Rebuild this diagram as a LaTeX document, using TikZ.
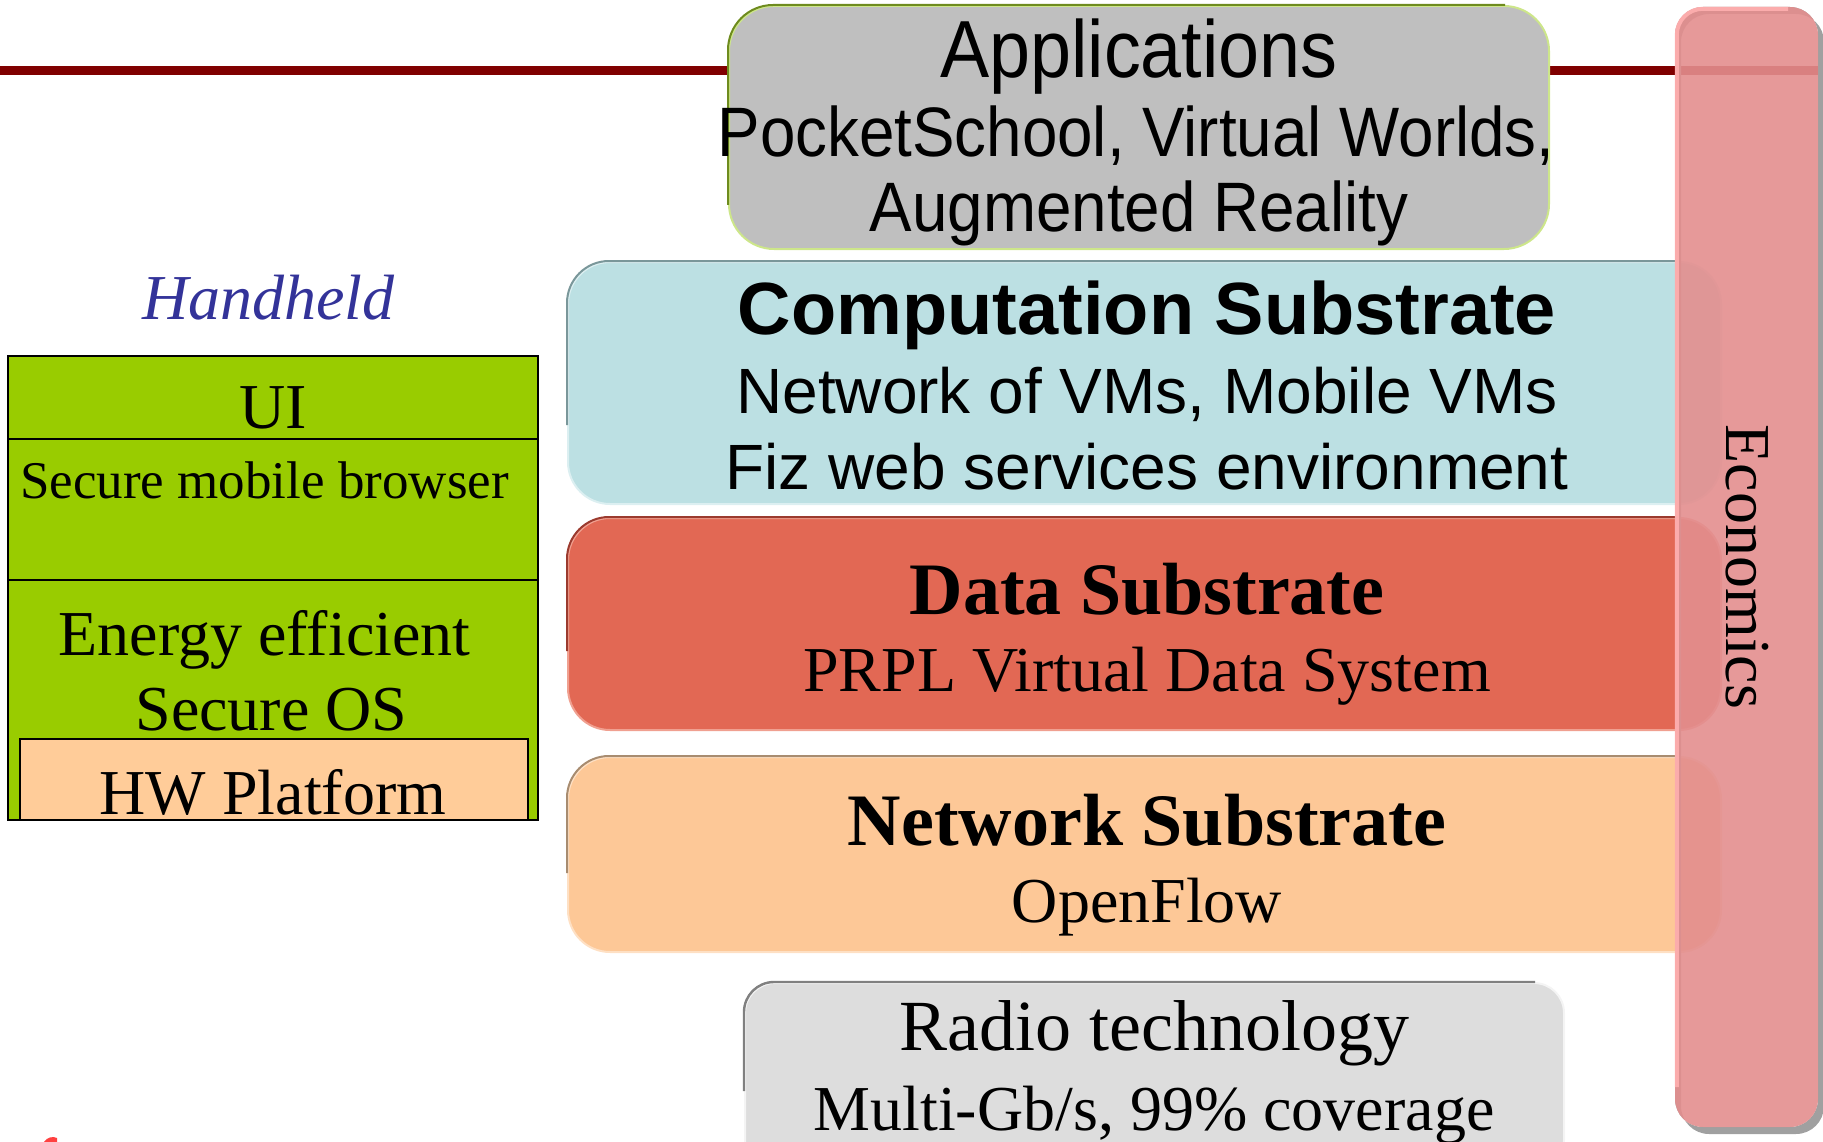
\documentclass[tikz,border=0pt]{standalone}
\usepackage{fontspec}
\setmainfont{Liberation Serif}
\newfontfamily\arialf{Liberation Sans}
\newfontfamily\appf[FakeStretch=0.91]{Liberation Sans}
\definecolor{redline}{HTML}{800000}
\definecolor{appfill}{HTML}{BFBFBF}
\definecolor{appdark}{HTML}{6E8B1E}
\definecolor{applight}{HTML}{CDE68A}
\definecolor{compfill}{HTML}{BCE0E3}
\definecolor{compdark}{HTML}{7A979A}
\definecolor{complight}{HTML}{DCEFF1}
\definecolor{datafill}{HTML}{E26854}
\definecolor{datadark}{HTML}{9B3A2E}
\definecolor{datalight}{HTML}{F0A090}
\definecolor{netfill}{HTML}{FDC897}
\definecolor{netdark}{HTML}{A88C70}
\definecolor{netlight}{HTML}{FEE0C4}
\definecolor{radiofill}{HTML}{DDDDDD}
\definecolor{radiodark}{HTML}{808080}
\definecolor{radiolight}{HTML}{F4F4F4}
\definecolor{econfill}{HTML}{E38E8E}
\definecolor{econlight}{HTML}{FFB0B0}
\definecolor{shadowgray}{HTML}{A0A0A0}
\definecolor{hhgreen}{HTML}{99CC00}
\definecolor{hwfill}{HTML}{FFCC99}
\definecolor{hhblue}{HTML}{333399}
\begin{document}
\begin{tikzpicture}[x=1pt,y=-1pt,
  txt/.style={inner sep=0pt, anchor=base, align=center},
  layerbox/.style={rectangle, inner sep=0pt, line width=2pt, rounded corners=42pt},
  hhbox/.style={rectangle, inner sep=0pt, draw=black, line width=1.6pt, minimum width=530pt},
  s64/.style={font=\fontsize{64}{70}\selectfont},
  b74/.style={font=\fontsize{74}{80}\selectfont\bfseries},
]
\useasboundingbox (0,0) rectangle (1823,1142);
\clip (0,0) rectangle (1823,1142);

% red line
\coordinate (rlL) at (0,71);
\coordinate (rlR) at (1823,71);
\draw[line width=9pt, redline] (rlL) -- (rlR);

% Applications
\node[layerbox, rounded corners=45pt, fill=appfill, draw=applight, minimum width=820pt, minimum height=243pt] (app) at (1139,127.5) {};
\draw[appdark, line width=2pt, rounded corners=45pt] ([yshift=45pt]app.south west) -- (app.north west) -- ([xshift=-45pt]app.north east);
\node[txt, font=\fontsize{81}{88}\selectfont\appf] (appT) at (1139,78) {Applications};
\node[txt, font=\fontsize{70}{76}\selectfont\appf] (appL2) at (1136,157) {PocketSchool, Virtual Worlds,};
\node[txt, font=\fontsize{70}{76}\selectfont\appf] (appL3) at (1139,232) {Augmented Reality};

% Computation
\node[layerbox, fill=compfill, draw=complight, minimum width=1153pt, minimum height=242pt] (comp) at (1144.5,383) {};
\draw[compdark, line width=2pt, rounded corners=42pt] ([yshift=80pt]comp.south west) -- (comp.north west) -- ([xshift=-42pt]comp.north east);
\node[txt, font=\fontsize{74}{80}\selectfont\arialf\bfseries] (compT) at (1147,334) {Computation Substrate};
\node[txt, font=\fontsize{64}{70}\selectfont\arialf] (compL2) at (1147,413) {Network of VMs, Mobile VMs};
\node[txt, font=\fontsize{64}{70}\selectfont\arialf] (compL3) at (1147,489) {Fiz web services environment};

% Data
\node[layerbox, fill=datafill, draw=datalight, minimum width=1153pt, minimum height=212pt] (data) at (1144.5,624) {};
\draw[datadark, line width=2pt, rounded corners=42pt] ([yshift=80pt]data.south west) -- (data.north west) -- ([xshift=-42pt]data.north east);
\node[txt, b74] (dataT) at (1147,614) {Data Substrate};
\node[txt, s64] (dataL2) at (1147,691) {PRPL Virtual Data System};

% Network
\node[layerbox, fill=netfill, draw=netlight, minimum width=1153pt, minimum height=195pt] (net) at (1144.5,854.5) {};
\draw[netdark, line width=2pt, rounded corners=42pt] ([yshift=80pt]net.south west) -- (net.north west) -- ([xshift=-42pt]net.north east);
\node[txt, b74] (netT) at (1147,845) {Network Substrate};
\node[txt, s64] (netL2) at (1147,922) {OpenFlow};

% Radio
\node[layerbox, rounded corners=30pt, fill=radiofill, draw=radiolight, minimum width=819pt, minimum height=187pt] (radio) at (1154.5,1076.5) {};
\draw[radiodark, line width=2.4pt, rounded corners=30pt] ([yshift=80pt]radio.south west) -- (radio.north west) -- ([xshift=-30pt]radio.north east);
\node[txt, font=\fontsize{72}{78}\selectfont] (radioT) at (1154,1050) {Radio technology};
\node[txt, s64] (radioL2) at (1154,1130) {Multi-Gb/s, 99\% coverage};

% Economics bar
\fill[shadowgray, even odd rule, rounded corners=28pt] (1681,14) rectangle (1824,1134) (1675,7) rectangle (1818,1127);
\node[rectangle, inner sep=0pt, rounded corners=28pt, fill=econfill, fill opacity=0.9, minimum width=143pt, minimum height=1120pt] (econ) at (1746.5,567) {};
\draw[econlight, line width=4pt, rounded corners=26pt, opacity=0.9] ([yshift=40pt,xshift=2pt]econ.south west) -- ([xshift=2pt,yshift=-2pt]econ.north west) -- ([xshift=-30pt,yshift=-2pt]econ.north east);
\node[txt, anchor=center, rotate=-90, s64] (econT) at (1747,567) {Economics};

% Handheld
\node[txt, font=\fontsize{64}{70}\selectfont\itshape, text=hhblue] (hhT) at (268.5,319) {Handheld};
\node[hhbox, fill=hhgreen, minimum height=83pt] (ui) at (273,397.5) {};
\node[hhbox, fill=hhgreen, minimum height=141pt] (browser) at (273,509.5) {};
\node[hhbox, fill=hhgreen, minimum height=240pt] (os) at (273,700) {};
\node[hhbox, fill=hwfill, minimum width=508pt, minimum height=81pt] (hw) at (274,779.5) {};
\node[txt, s64] (uiT) at (273,428) {UI};
\node[txt, font=\fontsize{53}{58}\selectfont] (browserT) at (264.5,498) {Secure mobile browser};
\node[txt, s64] (osT1) at (264.5,655) {Energy efficient};
\node[txt, s64] (osT2) at (271.5,730) {Secure OS};
\node[txt, s64] (hwT) at (273,814) {HW Platform};

% small red mark bottom left
\fill[red!75!white] (44,1142) .. controls (47,1137) and (53,1136) .. (57,1138) -- (57,1142) -- cycle;
\end{tikzpicture}
\end{document}
